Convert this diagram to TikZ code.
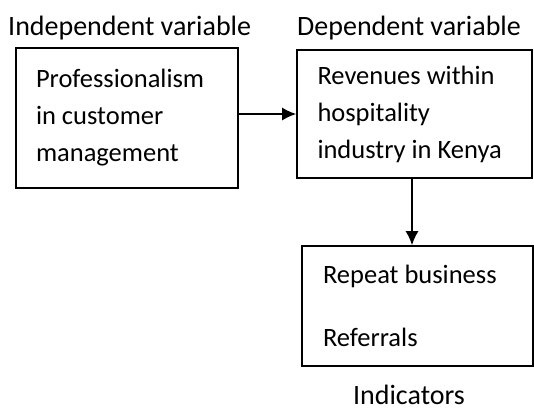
\documentclass[tikz,border=0pt]{standalone}
\usepackage{fontspec}
\setmainfont{Carlito}
\usetikzlibrary{arrows.meta}
\tikzset{
  >={Latex[length=14pt,width=13pt]},
  varbox/.style={draw,line width=1.6pt,align=flush left,inner sep=0pt},
  heading/.style={font=\fontsize{28}{32}\selectfont,inner sep=0pt}
}

\begin{document}
\begin{tikzpicture}[x=1pt,y=-1pt]
  \useasboundingbox (0,0) rectangle (534,410);
  \begin{scope}[font=\fontsize{26.5}{37}\selectfont]
    % the three boxes
    \node[varbox,text width=182pt,minimum width=222pt,minimum height=140pt] (indep) at (127,118)
      {Professionalism\\in customer\\management};
    \node[varbox,text width=194pt,minimum width=235pt,minimum height=128pt] (dep) at (414.5,114)
      {Revenues within\\hospitality\\industry in Kenya};
    \node[varbox,text width=189pt,minimum width=231pt,minimum height=120pt] (ind) at (417.5,306)
      {Repeat business\\[26pt]Referrals};
  \end{scope}
  % headings
  \node[heading,anchor=base west] (indeplabel) at (8,35) {Independent variable};
  \node[heading,anchor=base west] (deplabel) at (297,35) {Dependent variable};
  \node[heading,anchor=base] (indlabel) at (409,404) {Indicators};
  % links
  \draw[->,line width=1.6pt] (indep.east|-dep) -- (dep.west);
  \draw[->,line width=1.6pt] ([xshift=-2.5pt]dep.south) -- ([xshift=-2.5pt]dep.south|-ind.north);
\end{tikzpicture}
\end{document}
